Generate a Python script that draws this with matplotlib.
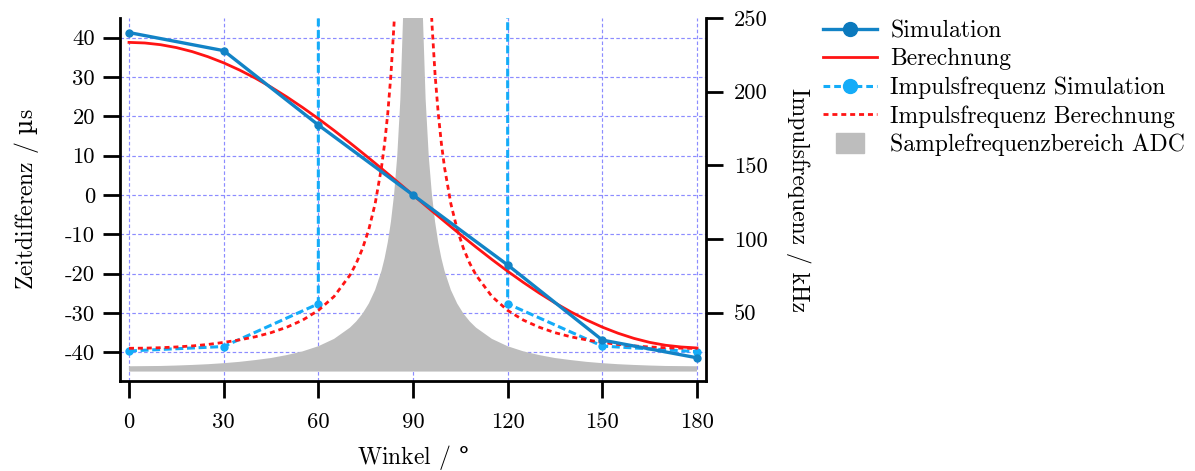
import matplotlib
matplotlib.use("Agg")
import matplotlib.pyplot as plt
from matplotlib.lines import Line2D
from matplotlib.patches import Rectangle
from matplotlib.legend_handler import HandlerPatch

plt.rcParams['font.family'] = ['cmr10', 'DejaVu Serif']
plt.rcParams['mathtext.fontset'] = 'custom'
plt.rcParams['mathtext.rm'] = 'DejaVu Serif'
plt.rcParams['axes.unicode_minus'] = False
plt.rcParams['axes.formatter.use_mathtext'] = False

# ---------------- data ----------------
winkel_sim = [0, 30, 60, 90, 120, 150, 180]
zeit_sim = [41.3, 36.7, 17.8, 0.0, -17.8, -36.9, -41.4]
# pulse frequency of the simulation; at 90 deg it diverges (pole)
freq_sim = [24.0, 27.0, 56.0, 1.0e6, 56.0, 27.3, 23.5]

winkel_calc = [0, 5, 10, 15, 20, 25, 30, 35, 40, 45, 50, 55, 60, 65, 70,
               72, 74, 76, 78,
               80, 81, 82, 83, 84, 85, 86, 87, 88, 89, 90,
               91, 92, 93, 94, 95, 96, 97, 98, 99, 100,
               102, 104, 106, 108, 110,
               115, 120, 125, 130, 135, 140, 145, 150, 155, 160, 165, 170, 175, 180]
zeit_calc = [38.80, 38.65, 38.21, 37.48, 36.46, 35.16, 33.60, 31.78, 29.72,
             27.44, 24.94, 22.25, 19.40, 16.40, 13.27,
             11.99, 10.69, 9.39, 8.07,
             6.74, 6.07, 5.40, 4.73, 4.06, 3.38, 2.71, 2.03, 1.35, 0.68, 0.0,
             -0.68, -1.35, -2.03, -2.71, -3.38, -4.06, -4.73, -5.40, -6.07, -6.74,
             -8.07, -9.39, -10.69, -11.99, -13.27,
             -16.40, -19.40, -22.25, -24.94, -27.44, -29.72, -31.78, -33.60,
             -35.16, -36.46, -37.48, -38.21, -38.65, -38.90]
freq_calc = [25.8, 25.9, 26.2, 26.7, 27.4, 28.4, 29.8, 31.5, 33.6, 36.4,
             40.1, 44.9, 51.5, 61.0, 75.4,
             83.4, 93.5, 106.5, 123.9,
             148.4, 164.7, 185.2, 211.4, 246.3, 295.9, 369.0, 492.6, 740.7,
             1470.0, float('nan'),
             1470.0, 740.7, 492.6, 369.0, 295.9, 246.3, 211.4, 185.2, 164.7, 148.4,
             123.9, 106.5, 93.5, 83.4, 75.4,
             61.0, 51.5, 44.9, 40.1, 36.4, 33.6, 31.5, 29.8, 28.4, 27.4, 26.7,
             26.2, 25.9, 25.7]
adc_oben = [13.6, 13.7, 13.8, 14.1, 14.5, 15.0, 15.7, 16.6, 17.8, 19.2, 21.2,
            23.7, 27.2, 32.2, 39.8,
            44.0, 49.3, 56.2, 65.4,
            78.3, 86.9, 97.7, 111.6, 130.1, 156.0, 195.0, 259.9, 389.7, 779.3,
            2000.0,
            779.3, 389.7, 259.9, 195.0, 156.0, 130.1, 111.6, 97.7, 86.9, 78.3,
            65.4, 56.2, 49.3, 44.0, 39.8,
            32.2, 27.2, 23.7, 21.2, 19.2, 17.8, 16.6, 15.7, 15.0, 14.5, 14.1,
            13.8, 13.7, 13.6]
adc_unten = 10.0

x_ticks = [0, 30, 60, 90, 120, 150, 180]
y_ticks_links = [-40, -30, -20, -10, 0, 10, 20, 30, 40]
y_ticks_rechts = [50, 100, 150, 200, 250]

labels = ["Simulation", "Berechnung", "Impulsfrequenz Simulation",
          "Impulsfrequenz Berechnung", "Samplefrequenzbereich ADC"]

# ---------------- style ----------------
c_sim = '#1283c6'
c_sim_leg = '#0b79bd'
c_fsim = '#14acf8'
c_red = '#ff1414'
c_grey = '#bdbdbd'
c_grid = '#8c8cff'

FS_TICK = 16.3
FS_LAB = 17

W, H = 1195, 471
fig = plt.figure(figsize=(W / 100, H / 100), dpi=100)
ax = fig.add_axes([120 / W, 90 / H, 586 / W, 363 / H])
ax2 = ax.twinx()

ax.set_xlim(-2.85, 182.85)
ax.set_ylim(-47.3, 45.0)
ax2.set_ylim(3.6, 250)

ax.set_xticks(x_ticks)
ax.set_yticks(y_ticks_links)
ax2.set_yticks(y_ticks_rechts)

ax.grid(True, color=c_grid, linestyle=(0, (3, 2)), linewidth=0.85)
ax.set_axisbelow(True)

# grey ADC range (right scale)
ax2.fill_between(winkel_calc, adc_unten, adc_oben, color=c_grey,
                 linewidth=0, zorder=1)
# pulse frequency lines (right scale)
ax2.plot(winkel_sim, freq_sim, color=c_fsim, linestyle=(0, (2.6, 1.2)),
         linewidth=2.2, marker='o', markersize=5, zorder=2)
ax2.plot(winkel_calc, freq_calc, color=c_red, linestyle=(0, (1.8, 1.4)),
         linewidth=2.0, zorder=2.2)
# time difference lines (left scale), drawn in ax2 above the grey fill
ax2.plot(winkel_calc, zeit_calc, color=c_red, linewidth=2.0,
         transform=ax.transData, zorder=3)
ax2.plot(winkel_sim, zeit_sim, color=c_sim, linewidth=2.4, marker='o',
         markersize=5, transform=ax.transData, zorder=3.1)

for s in ['top', 'right']:
    ax.spines[s].set_visible(False)
for s in ['top', 'left', 'bottom']:
    ax2.spines[s].set_visible(False)
for s in ['left', 'bottom']:
    ax.spines[s].set_linewidth(2.0)
ax2.spines['right'].set_linewidth(2.0)

ax.tick_params(axis='x', direction='out', length=12.5, width=2.0,
               labelsize=FS_TICK, pad=10)
ax.tick_params(axis='y', direction='out', length=12.5, width=2.0,
               labelsize=FS_TICK, pad=5.5)
ax2.tick_params(axis='y', direction='out', length=12.5, width=2.0,
                labelsize=FS_TICK, pad=7.5)

ax.set_xlabel(r"Winkel / $\mathrm{°}$", fontsize=FS_LAB, labelpad=8)
ax.set_ylabel(r"Zeitdifferenz / $\mathrm{µ}$s", fontsize=FS_LAB, labelpad=17)
ax2.set_ylabel("Impulsfrequenz / kHz", fontsize=FS_LAB, rotation=270,
               labelpad=31)

# legend
h_sim = Line2D([], [], color=c_sim, linewidth=2.4, marker='o', markersize=10,
               markerfacecolor=c_sim_leg, markeredgecolor=c_sim_leg)
h_calc = Line2D([], [], color=c_red, linewidth=2.0)
h_fsim = Line2D([], [], color=c_fsim, linewidth=2.2, linestyle=(0, (2.2, 1.3)),
                marker='o', markersize=10)
h_fcalc = Line2D([], [], color=c_red, linewidth=2.0, linestyle=(0, (1.8, 1.4)))
h_adc = Rectangle((0, 0), 1, 1, color=c_grey)


def grey_box(legend, orig_handle, xdescent, ydescent, width, height, fontsize):
    w = 0.52 * width
    h = 20 / 100 * 72
    return Rectangle((xdescent + (width - w) / 2, ydescent + (height - h) / 2),
                     w, h)


fig.legend([h_sim, h_calc, h_fsim, h_fcalc, h_adc], labels,
           loc='upper left', bbox_to_anchor=(823 / W, (H - 20) / H),
           frameon=False, fontsize=FS_LAB, handlelength=2.3, handletextpad=0.55,
           labelspacing=0.26, borderpad=0, borderaxespad=0,
           handler_map={h_adc: HandlerPatch(patch_func=grey_box)})

fig.savefig("out.png", dpi=100)
